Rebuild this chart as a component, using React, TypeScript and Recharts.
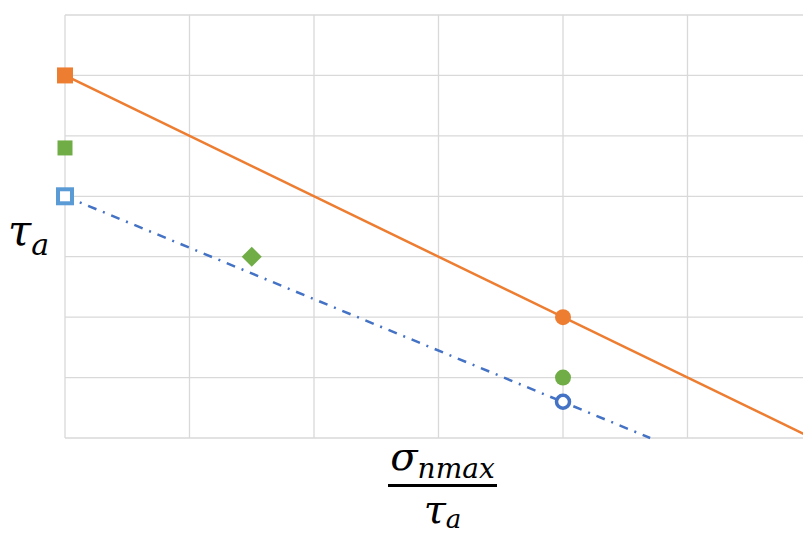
import React from "react";
import {
  ComposedChart,
  Line,
  Scatter,
  XAxis,
  YAxis,
  CartesianGrid,
} from "recharts";

const X_TICKS = [0, 1, 2, 3, 4, 5, 6];
const Y_TICKS = [0, 1, 2, 3, 4, 5, 6, 7];

// lines
const orangeLine = [
  { x: 0, y: 6 },
  { x: 6, y: 0 },
];
const blueLine = [
  { x: 0, y: 4 },
  { x: 4.7, y: 0 },
];

// markers
const orangeSquare = [{ x: 0, y: 6 }];
const orangeCircle = [{ x: 4, y: 2 }];
const greenSquare = [{ x: 0, y: 4.8 }];
const greenDiamond = [{ x: 1.5, y: 3 }];
const greenCircle = [{ x: 4, y: 1 }];
const blueSquare = [{ x: 0, y: 4 }];
const blueCircle = [{ x: 4, y: 0.6 }];

const ORANGE = "#ED7D31";
const GREEN = "#70AD47";
const LIGHT_BLUE = "#5B9BD5";
const BLUE = "#4472C4";

const mathFont = "'DejaVu Serif', 'Liberation Serif', serif";

function square(fill: string, stroke: string, size: number, sw = 0) {
  return (p: any) => (
    <rect
      x={p.cx - size / 2}
      y={p.cy - size / 2}
      width={size}
      height={size}
      fill={fill}
      stroke={stroke}
      strokeWidth={sw}
    />
  );
}

function circle(fill: string, stroke: string, r: number, sw = 0) {
  return (p: any) => (
    <circle cx={p.cx} cy={p.cy} r={r} fill={fill} stroke={stroke} strokeWidth={sw} />
  );
}

function diamond(fill: string, half: number) {
  return (p: any) => (
    <polygon
      points={`${p.cx},${p.cy - half} ${p.cx + half},${p.cy} ${p.cx},${p.cy + half} ${p.cx - half},${p.cy}`}
      fill={fill}
    />
  );
}

// axes carry no tick labels, but their ticks drive the grid
const noTick = () => <g />;

export default function App() {
  return (
    <div style={{ position: "relative", width: 803, height: 534, overflow: "hidden", background: "#fff" }}>
      <style>{`body{margin:0}`}</style>
      <ComposedChart
        width={820}
        height={534}
        margin={{ top: 15, right: 8, bottom: 96, left: 65 }}
      >
        <CartesianGrid stroke="#d9d9d9" strokeWidth={1.3} />
        <XAxis
          type="number"
          dataKey="x"
          domain={[0, 6]}
          ticks={X_TICKS}
          tick={noTick}
          axisLine={false}
          tickLine={false}
          height={0}
        />
        <YAxis
          type="number"
          dataKey="y"
          domain={[0, 7]}
          ticks={Y_TICKS}
          tick={noTick}
          axisLine={false}
          tickLine={false}
          width={0}
        />
        <Line
          data={orangeLine}
          dataKey="y"
          stroke={ORANGE}
          strokeWidth={2.5}
          dot={false}
          isAnimationActive={false}
        />
        <Line
          data={blueLine}
          dataKey="y"
          stroke={BLUE}
          strokeWidth={2.5}
          strokeDasharray="9 7 2 7"
          dot={false}
          isAnimationActive={false}
        />
        <Scatter data={orangeSquare} dataKey="y" shape={square(ORANGE, ORANGE, 16)} isAnimationActive={false} />
        <Scatter data={orangeCircle} dataKey="y" shape={circle(ORANGE, ORANGE, 8)} isAnimationActive={false} />
        <Scatter data={greenSquare} dataKey="y" shape={square(GREEN, GREEN, 15)} isAnimationActive={false} />
        <Scatter data={greenDiamond} dataKey="y" shape={diamond(GREEN, 10)} isAnimationActive={false} />
        <Scatter data={greenCircle} dataKey="y" shape={circle(GREEN, GREEN, 8)} isAnimationActive={false} />
        <Scatter data={blueSquare} dataKey="y" shape={square("#fff", LIGHT_BLUE, 14, 4)} isAnimationActive={false} />
        <Scatter data={blueCircle} dataKey="y" shape={circle("#fff", BLUE, 6.5, 3.5)} isAnimationActive={false} />
      </ComposedChart>

      {/* y axis label */}
      <div
        style={{
          position: "absolute",
          left: 8,
          top: 210,
          fontFamily: mathFont,
          fontStyle: "italic",
          fontSize: 42,
          color: "#000",
          lineHeight: 1,
        }}
      >
        τ<span style={{ fontSize: 30, position: "relative", top: 10 }}>a</span>
      </div>

      {/* x axis label: fraction */}
      <div
        style={{
          position: "absolute",
          left: 385,
          top: 436,
          width: 115,
          textAlign: "center",
          fontFamily: mathFont,
          fontStyle: "italic",
          color: "#000",
          lineHeight: 1,
        }}
      >
        <div style={{ fontSize: 40, height: 48, whiteSpace: "nowrap" }}>
          σ<span style={{ fontSize: 28, position: "relative", top: 8 }}>nmax</span>
        </div>
        <div style={{ height: 3, background: "#000", margin: "0 3px" }} />
        <div style={{ fontSize: 40, marginTop: 2, whiteSpace: "nowrap" }}>
          τ<span style={{ fontSize: 26, position: "relative", top: 5 }}>a</span>
        </div>
      </div>
    </div>
  );
}
